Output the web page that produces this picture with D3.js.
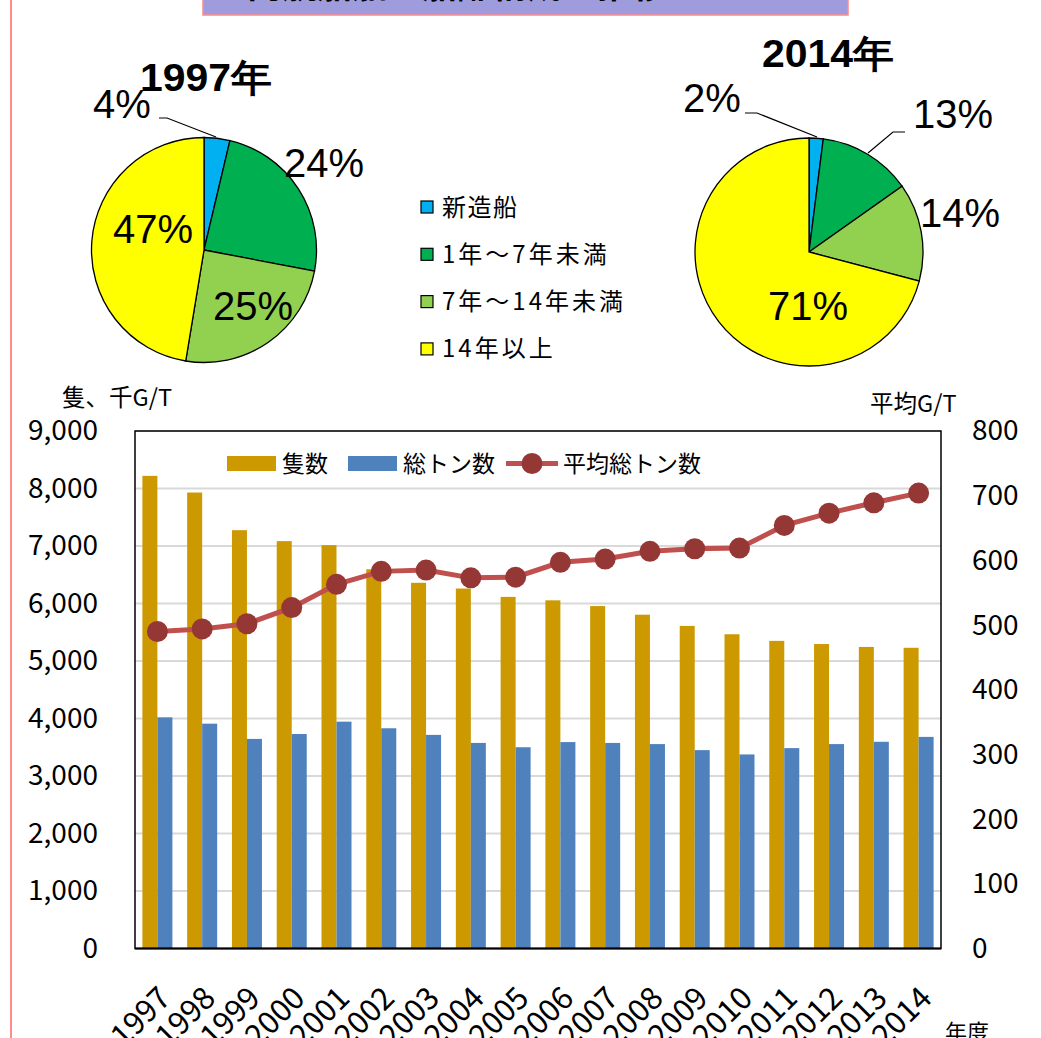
<!DOCTYPE html>
<html>
<head>
<meta charset="utf-8">
<script src="https://cdn.jsdelivr.net/npm/d3@7"></script>
<style>
  body { margin: 0; background: #fff; }
  text { font-family: "Noto Sans CJK JP", "Noto Sans", sans-serif; }
  .pct { font-family: "Liberation Sans", Arial, sans-serif; }
</style>
</head>
<body>
<svg id="chart" width="1041" height="1038"></svg>
<script>
// bar / line data
const years = ["1997","1998","1999","2000","2001","2002","2003","2004","2005",
               "2006","2007","2008","2009","2010","2011","2012","2013","2014"];
const ships   = [8220,7930,7275,7085,7015,6595,6360,6260,6115,6055,5955,5805,5610,5465,5350,5295,5245,5230];
const tonnage = [4020,3910,3645,3730,3945,3830,3715,3575,3500,3590,3575,3555,3450,3375,3485,3555,3595,3680];
const avgTon  = [490,494,502,527,563,583,585,573,574,597,602,614,618,619,654,673,689,704];

const leftTicks  = [0,1000,2000,3000,4000,5000,6000,7000,8000,9000];
const rightTicks = [0,100,200,300,400,500,600,700,800];

// pie data
const ageCats   = ["新造船","1年～7年未満","7年～14年未満","14年以上"];
const ageColors = ["#00b0f0","#00b050","#92d050","#ffff00"];
const share1997 = [3.7,24.3,24.6,47.4];
const share2014 = [2.0,13.2,13.9,70.9];
const pct1997   = ["4%","24%","25%","47%"];
const pct2014   = ["2%","13%","14%","71%"];

const svg = d3.select("#chart");

// page decoration: pink margin line and the cut-off title box
svg.append("line").attr("x1",11).attr("x2",11).attr("y1",0).attr("y2",1038)
  .attr("stroke","#ff8b8b").attr("stroke-width",2);
svg.append("rect").attr("x",203).attr("y",-20).attr("width",645).attr("height",35)
  .attr("fill","#9e9cdc").attr("stroke","#ff8b8b").attr("stroke-width",1.5);
svg.append("text").attr("x",457).attr("y",-2).attr("text-anchor","middle")
  .attr("font-size",35).attr("font-weight","bold").text("内航船舶の船齢構成の推移");

// ---------- pies ----------
function drawPie(cx, cy, r, shares, labels, title, titlePos, labelPos, leaders) {
  const g = svg.append("g").attr("transform", `translate(${cx},${cy})`);
  const pie = d3.pie().sort(null).value(d => d);
  const arc = d3.arc().innerRadius(0).outerRadius(r);
  g.selectAll("path").data(pie(shares)).join("path")
    .attr("d", arc)
    .attr("fill", (d,i) => ageColors[i])
    .attr("stroke","#000").attr("stroke-width",1.3);

  labels.forEach((t,i) => {
    svg.append("text").attr("class","pct")
      .attr("x", labelPos[i][0]).attr("y", labelPos[i][1])
      .attr("font-size",40).attr("fill","#000").text(t);
  });
  leaders.forEach(pts => {
    svg.append("polyline").attr("points", pts.map(p => p.join(",")).join(" "))
      .attr("fill","none").attr("stroke","#000").attr("stroke-width",1.2);
  });
  svg.append("text").attr("class","pct")
    .attr("x", titlePos[0]).attr("y", titlePos[1])
    .attr("font-size",38).attr("font-weight","bold")
    .attr("textLength",132).attr("lengthAdjust","spacingAndGlyphs")
    .text(title);
}

drawPie(204, 250, 112.5, share1997, pct1997, "1997年", [140, 91],
  [[93,118],[284,177],[213,320],[113,243]],
  [[[159,118],[167,118],[216,137]]]);

drawPie(809, 252, 114, share2014, pct2014, "2014年", [762, 67],
  [[683,112],[913,128],[920,227],[768,320]],
  [[[745,113],[757,113],[817,137]], [[868,153],[893,132],[905,132]]]);

// pie legend
const pl = svg.append("g");
ageCats.forEach((c,i) => {
  const y = 207 + i * 47.3;
  pl.append("rect").attr("x",421).attr("y",y-6).attr("width",12).attr("height",12)
    .attr("fill",ageColors[i]).attr("stroke","#000").attr("stroke-width",1.2);
  pl.append("text").attr("x",442).attr("y",y+8.5).attr("font-size",24)
    .attr("letter-spacing", i === 0 ? 1.5 : 3).text(c);
});

// ---------- bar + line chart ----------
const plot = { left: 135, right: 941, top: 431, bottom: 948.5 };

const x = d3.scaleBand().domain(years)
  .range([plot.left, plot.right]).paddingInner(0.33).paddingOuter(0.165);
const yL = d3.scaleLinear().domain([0,9000]).range([plot.bottom, plot.top]);
const yR = d3.scaleLinear().domain([0,800]).range([plot.bottom, plot.top]);

// gridlines
svg.append("g").selectAll("line").data(leftTicks.slice(1)).join("line")
  .attr("x1",plot.left).attr("x2",plot.right)
  .attr("y1",d => yL(d)).attr("y2",d => yL(d))
  .attr("stroke","#d9d9d9").attr("stroke-width",2);

const bw = x.bandwidth() / 2;
svg.append("g").selectAll("rect").data(ships).join("rect")
  .attr("x",(d,i) => x(years[i])).attr("width",bw)
  .attr("y",d => yL(d)).attr("height",d => plot.bottom - yL(d))
  .attr("fill","#cc9900");
svg.append("g").selectAll("rect").data(tonnage).join("rect")
  .attr("x",(d,i) => x(years[i]) + bw).attr("width",bw)
  .attr("y",d => yL(d)).attr("height",d => plot.bottom - yL(d))
  .attr("fill","#4f81bd");

// plot frame
svg.append("rect").attr("x",plot.left).attr("y",plot.top)
  .attr("width",plot.right-plot.left).attr("height",plot.bottom-plot.top)
  .attr("fill","none").attr("stroke","#000").attr("stroke-width",1.5);
svg.append("line").attr("x1",plot.left).attr("x2",plot.right)
  .attr("y1",plot.bottom).attr("y2",plot.bottom)
  .attr("stroke","#000").attr("stroke-width",2.2);

// average tonnage line
const cxOf = i => x(years[i]) + x.bandwidth()/2;
const line = d3.line().x((d,i) => cxOf(i)).y(d => yR(d));
svg.append("path").datum(avgTon).attr("d",line)
  .attr("fill","none").attr("stroke","#c0504d").attr("stroke-width",5);
svg.append("g").selectAll("circle").data(avgTon).join("circle")
  .attr("cx",(d,i) => cxOf(i)).attr("cy",d => yR(d)).attr("r",10.5)
  .attr("fill","#953735");

// left axis
const axL = svg.append("g").attr("transform",`translate(${plot.left},0)`)
  .call(d3.axisLeft(yL).tickValues(leftTicks).tickSize(0).tickPadding(37)
    .tickFormat(d3.format(",")));
axL.select(".domain").remove();
axL.selectAll("text").attr("font-size",28).attr("fill","#000")
  .attr("font-family","'Noto Sans CJK JP', sans-serif");

// right axis
const axR = svg.append("g").attr("transform",`translate(${plot.right},0)`)
  .call(d3.axisRight(yR).tickValues(rightTicks).tickSize(0).tickPadding(31));
axR.select(".domain").remove();
axR.selectAll("text").attr("font-size",28).attr("fill","#000")
  .attr("font-family","'Noto Sans CJK JP', sans-serif");

// axis titles
svg.append("text").attr("x",62).attr("y",406).attr("font-size",23.5).text("隻、千G/T");
svg.append("text").attr("x",870).attr("y",412).attr("font-size",23.5).text("平均G/T");
svg.append("text").attr("x",945).attr("y",1040).attr("font-size",22).text("年度");

// rotated year labels
svg.append("g").selectAll("text").data(years).join("text")
  .attr("transform",(d,i) => `translate(${cxOf(i)+15},1000) rotate(-45)`)
  .attr("text-anchor","end").attr("font-size",31).text(d => d);

// chart legend
const lg = svg.append("g");
lg.append("rect").attr("x",227).attr("y",456).attr("width",49).attr("height",15).attr("fill","#cc9900");
lg.append("text").attr("x",282).attr("y",472).attr("font-size",23).text("隻数");
lg.append("rect").attr("x",348).attr("y",456).attr("width",49).attr("height",15).attr("fill","#4f81bd");
lg.append("text").attr("x",403).attr("y",472).attr("font-size",23).text("総トン数");
lg.append("line").attr("x1",506).attr("x2",558).attr("y1",463.5).attr("y2",463.5)
  .attr("stroke","#c0504d").attr("stroke-width",5);
lg.append("circle").attr("cx",532).attr("cy",463.5).attr("r",10.5).attr("fill","#953735");
lg.append("text").attr("x",563).attr("y",472).attr("font-size",23).text("平均総トン数");
</script>
</body>
</html>
